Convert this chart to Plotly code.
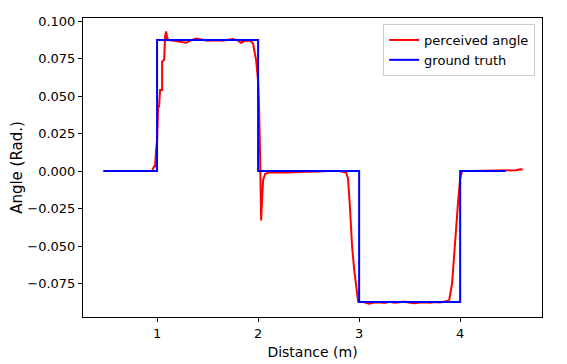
import plotly.graph_objects as go

# ground truth step profile (distance in m, angle in rad)
gt_x = [0.47, 1.0, 1.0, 2.0, 2.0, 3.0, 3.0, 4.0, 4.0, 4.45]
gt_y = [0.0, 0.0, 0.0873, 0.0873, 0.0, 0.0, -0.0873, -0.0873, 0.0, 0.0]

# perceived angle
pa_x = [0.47, 0.95, 0.97, 0.98, 0.99, 1.0, 1.01, 1.02, 1.03, 1.05, 1.05, 1.07, 1.08, 1.09,
        1.1, 1.12, 1.15, 1.2, 1.25, 1.29, 1.33, 1.39, 1.45, 1.5, 1.55, 1.6, 1.65, 1.7,
        1.75, 1.8, 1.83, 1.87, 1.92, 1.95, 1.97, 1.98, 2.0, 2.01, 2.02, 2.03, 2.04, 2.05,
        2.07, 2.1, 2.2, 2.3, 2.4, 2.5, 2.6, 2.7, 2.8, 2.87, 2.89, 2.91, 2.93, 2.95,
        2.97, 2.98, 2.99, 3.01, 3.05, 3.1, 3.15, 3.2, 3.25, 3.3, 3.35, 3.4, 3.45, 3.5,
        3.55, 3.6, 3.65, 3.7, 3.75, 3.8, 3.85, 3.89, 3.92, 3.94, 3.96, 3.98, 4.0, 4.02,
        4.1, 4.2, 4.3, 4.42, 4.5, 4.55, 4.6, 4.62]
pa_y = [0.0, 0.0, 0.003, 0.003, 0.014, 0.02, 0.042, 0.043, 0.054, 0.054, 0.073, 0.074, 0.09, 0.093,
        0.0885, 0.0872, 0.087, 0.0865, 0.086, 0.0855, 0.087, 0.0883, 0.0875, 0.0868, 0.087, 0.0872, 0.0868, 0.0875,
        0.088, 0.087, 0.0855, 0.0868, 0.087, 0.085, 0.078, 0.074, 0.06, 0.042, 0.01, -0.033, -0.018, -0.006,
        -0.002, -0.001, -0.0008, -0.001, -0.0006, -0.0007, -0.0003, 0.0, 0.0, -0.001, -0.005, -0.025, -0.05, -0.065,
        -0.078, -0.083, -0.087, -0.0872, -0.0875, -0.0885, -0.0876, -0.0874, -0.088, -0.0872, -0.0878, -0.0875, -0.087, -0.0878,
        -0.0882, -0.0876, -0.0874, -0.0878, -0.0873, -0.0877, -0.0872, -0.0865, -0.075, -0.055, -0.04, -0.02, -0.005, 0.0,
        0.0, 0.0, 0.0, 0.0, 0.0001, 0.0005, 0.0012, 0.0011]

fig = go.Figure()
fig.add_trace(go.Scatter(x=pa_x, y=pa_y, mode='lines', name='perceived angle',
                         line=dict(color='#ff0000', width=2)))
fig.add_trace(go.Scatter(x=gt_x, y=gt_y, mode='lines', name='ground truth',
                         line=dict(color='#0000ff', width=2)))

# page body keeps an 8px margin, so the figure is sized to fit inside the window
fig.update_layout(
    width=559, height=356,
    margin=dict(l=75, r=25, t=10, b=47),
    paper_bgcolor='white', plot_bgcolor='white',
    font=dict(family='DejaVu Sans', size=13, color='black'),
    legend=dict(x=0.985, y=0.98, xanchor='right', yanchor='top',
                bgcolor='rgba(255,255,255,0.8)', bordercolor='#cccccc', borderwidth=1,
                font=dict(size=13), tracegroupgap=0),
    xaxis=dict(range=[0.267, 4.81], tickvals=[1, 2, 3, 4], showgrid=False, zeroline=False,
               showline=True, linecolor='black', linewidth=1, mirror=True,
               ticks='outside', ticklen=4, tickcolor='black', automargin=False,
               title=dict(text='Distance (m)', font=dict(size=14), standoff=7)),
    yaxis=dict(range=[-0.0973, 0.102], tick0=0, dtick=0.025, tickformat='.3f',
               showgrid=False, zeroline=False,
               showline=True, linecolor='black', linewidth=1, mirror=True,
               ticks='outside', ticklen=4, tickcolor='black', automargin=False,
               title=dict(text='Angle (Rad.)', font=dict(size=15), standoff=6)),
)

fig.write_html("out.html")
